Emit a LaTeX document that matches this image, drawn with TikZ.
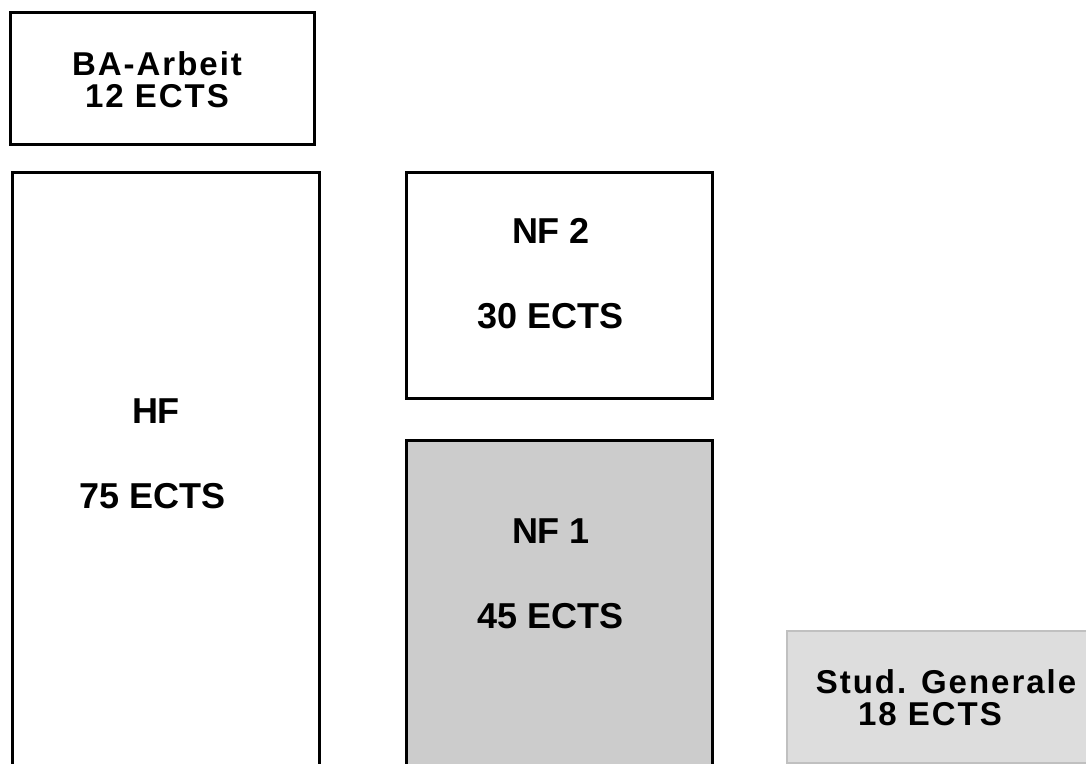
\documentclass[tikz,border=0pt]{standalone}
\usepackage{fontspec}
\setmainfont{Liberation Sans}
\usetikzlibrary{positioning}
\definecolor{nfgray}{HTML}{CCCCCC}
\definecolor{sggray}{HTML}{DDDDDD}
\definecolor{sgline}{HTML}{C0C0C0}
\tikzset
{
    modul/.style   = {rectangle, draw=black, line width=2.5pt, anchor=north west, inner sep=0pt},
    sgmodul/.style = {rectangle, draw=sgline, fill=sggray, line width=2pt, anchor=north west, inner sep=0pt},
    bigtxt/.style  = {anchor=base, inner sep=0pt, font=\fontsize{36}{42}\selectfont\bfseries},
    smalltxt/.style = {anchor=base, inner sep=0pt, text height=24pt, text depth=1pt,
                       font=\fontsize{33}{38}\selectfont\bfseries\addfontfeature{LetterSpace=6}}
}

\begin{document}
\begin{tikzpicture}[x=1pt, y=-1pt]
\useasboundingbox (0,0) rectangle (1086,763);
\clip (0,0) rectangle (1086,763);
% Kaesten
\node(ba) [modul, minimum width=304pt, minimum height=132pt] at (9,11) {};
\node(hf) [modul, minimum width=307pt, minimum height=620pt] at (11,171) {};
\node(nf2) [modul, minimum width=306pt, minimum height=226pt] at (405,171) {};
\node(nf1) [modul, fill=nfgray, minimum width=306pt, minimum height=360pt] at (405,439) {};
\node(sg) [sgmodul, minimum width=320pt, minimum height=132pt] at (786,630) {};
% Beschriftung
\node(batitel) [smalltxt] at (157,75) {BA-Arbeit};
\node(baects) [smalltxt] at (157,107) {12 ECTS};
\node(hftitel) [bigtxt] at (156,423) {HF};
\node(hfects) [bigtxt] at (153,508) {75 ECTS};
\node(nf2titel) [bigtxt] at (551,243) {NF 2};
\node(nf2ects) [bigtxt] at (551,328) {30 ECTS};
\node(nf1titel) [bigtxt] at (551,543) {NF 1};
\node(nf1ects) [bigtxt] at (551,628) {45 ECTS};
\node(sgtitel) [smalltxt] at (946,693) {Stud. Generale};
\node(sgects) [smalltxt] at (930,725) {18 ECTS};
\end{tikzpicture}
\end{document}
